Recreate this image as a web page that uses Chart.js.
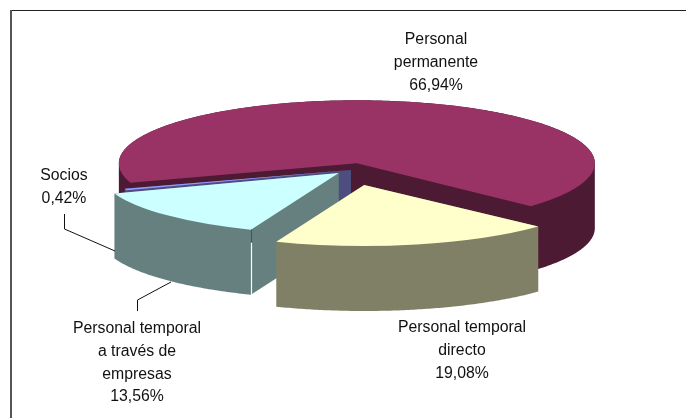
<!DOCTYPE html>
<html>
<head>
<meta charset="utf-8">
<style>html,body{margin:0;padding:0;background:#fff}canvas{display:block}#w{position:relative;width:686px;height:418px}</style>
<script src="https://cdn.jsdelivr.net/npm/chart.js@4/dist/chart.umd.min.js"></script>
</head>
<body>
<div id="w"><canvas id="c" width="686" height="418"></canvas></div>
<script>
const categories = ['Personal permanente', 'Personal temporal directo', 'Personal temporal a través de empresas', 'Socios'];
const shares = [66.94, 19.08, 13.56, 0.42];
const topColors = ['#993366', '#FFFFCC', '#CCFFFF', '#9999FF'];
const sideColors = ['#4D1A33', '#808066', '#668080', '#4D4D80'];
const explode = [27, 60, 17, 0];
const flatRadius = [63, 61, 61, 61];
const paintOrder = [0, 3, 2, 1];
const labelLines = [['Personal', 'permanente'], ['Personal temporal', 'directo'], ['Personal temporal', 'a través de', 'empresas'], ['Socios']];
const labelAnchors = [[436, 40], [462, 328], [137, 329], [64, 176]];
const LH = 22.7;
const RX = 238, RY0 = 61, DEPTH = 65;

// add a polygon to the current path, always wound the same way so overlaps stay solid
function addPoly(ctx, pts) {
  let area = 0;
  pts.forEach((p, k) => {
    const q = pts[(k + 1) % pts.length];
    area += p[0] * q[1] - q[0] * p[1];
  });
  const list = area < 0 ? pts.slice().reverse() : pts;
  list.forEach((p, k) => k ? ctx.lineTo(p[0], p[1]) : ctx.moveTo(p[0], p[1]));
  ctx.closePath();
}

const pie3d = {
  id: 'pie3d',
  beforeDatasetDraw(chart) {
    const ctx = chart.ctx;
    const arcs = chart.getDatasetMeta(0).data;
    for (const i of paintOrder) {
      const a = arcs[i];
      const RY = flatRadius[i];
      const sx = RX / a.outerRadius, sy = RY / a.outerRadius;
      const mid = (a.startAngle + a.endAngle) / 2;
      const cx = a.x + Math.cos(mid) * explode[i];
      const cy = a.y + Math.sin(mid) * explode[i] * RY0 / RX;
      // slice outline on screen
      const outline = [[cx, cy]];
      const steps = Math.max(2, Math.ceil((a.endAngle - a.startAngle) * 90));
      for (let k = 0; k <= steps; k++) {
        const t = a.startAngle + (a.endAngle - a.startAngle) * k / steps;
        outline.push([cx + RX * Math.cos(t), cy + RY * Math.sin(t)]);
      }
      // solid body: bottom face plus every outline edge swept down by the depth
      ctx.save();
      ctx.fillStyle = sideColors[i];
      ctx.beginPath();
      addPoly(ctx, outline.map(p => [p[0], p[1] + DEPTH]));
      outline.forEach((p, k) => {
        const q = outline[(k + 1) % outline.length];
        addPoly(ctx, [p, q, [q[0], q[1] + DEPTH], [p[0], p[1] + DEPTH]]);
      });
      ctx.fill();
      ctx.restore();
      // top face: the library's own arc element
      ctx.save();
      ctx.translate(cx, cy);
      ctx.scale(sx, sy);
      ctx.translate(-a.x, -a.y);
      a.draw(ctx);
      ctx.restore();
      // seam at the front corner of the third slice
      if (i === 2) {
        const px = Math.round(cx + RX * Math.cos(a.startAngle)) + 0.5;
        const py = cy + RY * Math.sin(a.startAngle);
        ctx.save();
        ctx.lineWidth = 1.2;
        ctx.strokeStyle = sideColors[3];
        ctx.beginPath(); ctx.moveTo(px, py); ctx.lineTo(px, py + 13); ctx.stroke();
        ctx.strokeStyle = '#fff';
        ctx.beginPath(); ctx.moveTo(px, py + 13); ctx.lineTo(px, py + DEPTH); ctx.stroke();
        ctx.restore();
      }
    }
    return false;
  },
  afterDatasetsDraw(chart) {
    const ctx = chart.ctx;
    ctx.save();
    // frame
    ctx.strokeStyle = '#222'; ctx.lineWidth = 1;
    ctx.beginPath(); ctx.moveTo(10, 10.5); ctx.lineTo(686, 10.5); ctx.stroke();
    ctx.strokeStyle = '#555'; ctx.lineWidth = 2;
    ctx.beginPath(); ctx.moveTo(11, 10); ctx.lineTo(11, 418); ctx.stroke();
    // leader lines
    ctx.strokeStyle = '#111'; ctx.lineWidth = 1;
    ctx.beginPath(); ctx.moveTo(64.5, 214); ctx.lineTo(64.5, 229); ctx.lineTo(115, 251); ctx.stroke();
    ctx.beginPath(); ctx.moveTo(137.5, 311); ctx.lineTo(137.5, 300); ctx.lineTo(171, 282); ctx.stroke();
    // labels
    ctx.fillStyle = '#111';
    ctx.font = '15.8px "Liberation Sans", Arial, sans-serif';
    ctx.textAlign = 'center'; ctx.textBaseline = 'middle';
    labelLines.forEach((lines, i) => {
      const [x, y] = labelAnchors[i];
      const pct = shares[i].toFixed(2).replace('.', ',') + '%';
      lines.concat([pct]).forEach((t, j) => ctx.fillText(t, x, y + j * LH));
    });
    ctx.restore();
  }
};

new Chart(document.getElementById('c'), {
  type: 'pie',
  data: {
    labels: categories,
    datasets: [{ data: shares, backgroundColor: topColors, borderWidth: 0 }]
  },
  options: {
    responsive: false,
    animation: false,
    rotation: 252,
    layout: { padding: { left: 16, right: 0, top: 0, bottom: 78 } },
    plugins: { legend: { display: false }, tooltip: { enabled: false } }
  },
  plugins: [pie3d]
});
</script>
</body>
</html>
